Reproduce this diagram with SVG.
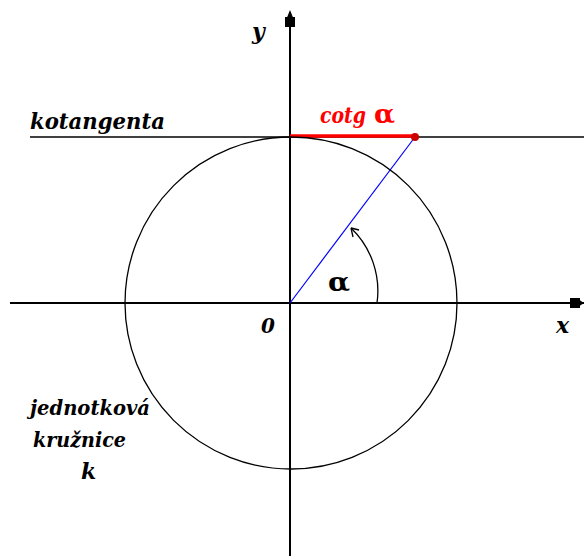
<svg xmlns="http://www.w3.org/2000/svg" width="584" height="556" viewBox="0 0 584 556">
<style>
.ax{stroke:#000;stroke-width:2;fill:none}
.ln{stroke:#000;stroke-width:1.3;fill:none}
.t{font-family:"DejaVu Serif","Liberation Serif",serif;font-weight:bold;font-style:italic;fill:#000}
.a{font-family:"DejaVu Serif","Liberation Serif",serif;font-weight:bold}
</style>
<rect width="584" height="556" fill="#fff"/>
<g id="connectors">
<line id="x-axis" class="ax" x1="10" y1="303" x2="584" y2="303"/>
<rect x="570" y="298" width="10" height="10" fill="#000"/>
<path d="M578,299 L584,303 L578,307 Z" fill="#000"/>
<line id="y-axis" class="ax" x1="290" y1="556" x2="290" y2="12"/>
<rect x="285" y="17" width="10" height="10" fill="#000"/>
<path d="M286,20 L290,10 L294,20 Z" fill="#000"/>
<line id="cotangent-line" class="ln" x1="30" y1="137" x2="584" y2="137"/>
<line id="radius" x1="290" y1="303" x2="415" y2="137" stroke="#0000ff" stroke-width="1.2"/>
<path id="angle-arc" class="ln" d="M377,303 A87,87 0 0 0 351,228"/>
<path d="M351,228 L359,230 M351,228 L353,237" class="ln"/>
<line id="cotg-segment" x1="290" y1="136" x2="415" y2="136" stroke="#ff0000" stroke-width="3.5"/>
</g>
<g id="circle-k">
<circle cx="291" cy="303" r="166" class="ln"/>
</g>
<g id="point"><circle cx="415" cy="137" r="4" fill="#cc0000"/></g>
<g id="labels">
<text class="t" x="252" y="39" font-size="22">y</text>
<text class="t" x="556" y="333" font-size="22">x</text>
<text class="t" x="261" y="333" font-size="20">0</text>
<text class="a" x="328" y="291" font-size="26" textLength="22" lengthAdjust="spacingAndGlyphs" fill="#000">α</text>
<text class="t" x="30" y="129" font-size="22" textLength="135" lengthAdjust="spacingAndGlyphs">kotangenta</text>
<text class="t" x="320" y="123" font-size="23" textLength="46" lengthAdjust="spacingAndGlyphs" style="fill:#ff0000">cotg</text>
<text class="a" x="374" y="123" font-size="26" textLength="21" lengthAdjust="spacingAndGlyphs" fill="#ff0000">α</text>
<text class="t" x="30" y="415" font-size="21" textLength="120" lengthAdjust="spacingAndGlyphs">jednotková</text>
<text class="t" x="33" y="447" font-size="21" textLength="93" lengthAdjust="spacingAndGlyphs">kružnice</text>
<text class="t" x="81" y="479" font-size="22">k</text>
</g>
</svg>
